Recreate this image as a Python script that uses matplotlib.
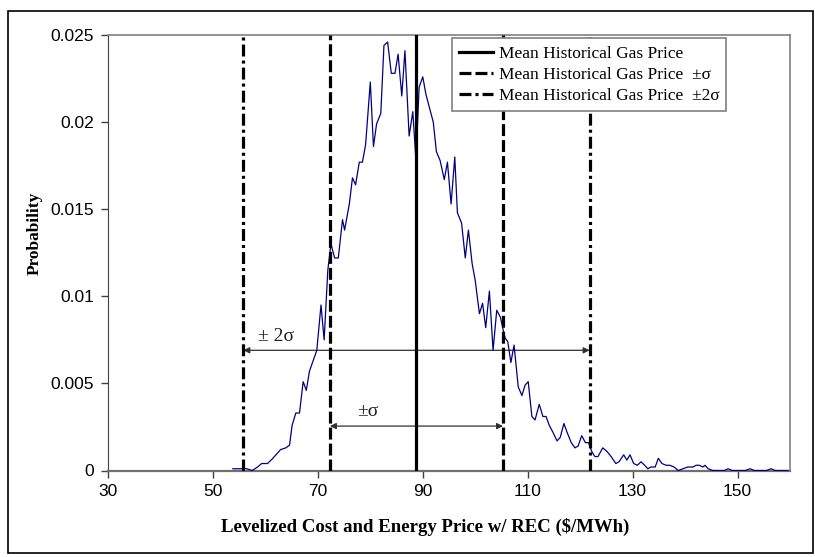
import matplotlib
matplotlib.use("Agg")
import matplotlib.pyplot as plt
from matplotlib.patches import Rectangle
from matplotlib.lines import Line2D

plt.rcParams.update({
    "font.family": "serif",
    "font.serif": ["Liberation Serif", "Times New Roman", "DejaVu Serif"],
    "lines.scale_dashes": False,
})

# distribution of levelized cost + energy price
price = [53.8, 55.3, 56.2, 57.5, 58.5, 59.3, 60.4, 61.3, 62.0, 62.9, 63.9, 64.6,
         65.1, 65.8, 66.5, 67.2, 67.8, 68.4, 69.1, 69.8, 70.6, 71.2, 71.9, 72.5,
         73.2, 73.9, 74.7, 75.1, 76.0, 76.6, 77.2, 77.9, 78.5, 79.1, 80.0, 80.6,
         81.2, 82.0, 82.6, 83.3, 84.0, 84.7, 85.3, 86.0, 86.6, 87.4, 88.1, 88.7,
         89.3, 90.0, 90.6, 91.3, 92.0, 92.6, 93.3, 94.1, 94.7, 95.4, 96.1, 96.6,
         97.4, 98.1, 98.7, 99.4, 100.0, 100.8, 101.4, 102.0, 102.7, 103.4, 104.1,
         104.8, 105.3, 105.7, 106.2, 106.8, 107.4, 108.2, 108.9, 109.5, 110.1,
         110.8, 111.4, 112.2, 112.9, 113.5, 114.1, 114.8, 115.6, 116.2, 116.9,
         117.5, 118.3, 119.0, 119.6, 120.3, 121.0, 121.6, 122.2, 122.8, 123.4,
         124.3, 125.1, 125.9, 126.8, 127.4, 128.3, 128.9, 129.5, 130.2, 130.9,
         131.6, 132.3, 132.9, 133.5, 134.3, 134.9, 135.6, 136.4, 137.1, 137.9,
         138.7, 139.6, 140.5, 141.5, 142.1, 142.7, 143.4, 143.8, 144.4, 145.3,
         146.5, 147.5, 148.2, 149.0, 151.5, 152.4, 153.2, 155.5, 156.4, 157.2,
         159.6]
prob = [0.0001, 0.0001, 0.00012, 0.0, 0.0002, 0.0004, 0.0004, 0.00066, 0.0009,
        0.0012, 0.0013, 0.00145, 0.0026, 0.0033, 0.0033, 0.0051, 0.0046, 0.0057,
        0.0063, 0.0069, 0.0095, 0.0075, 0.0115, 0.0130, 0.0122, 0.0122, 0.0144,
        0.0138, 0.0153, 0.0168, 0.0164, 0.0177, 0.0177, 0.0187, 0.0223, 0.0186,
        0.0199, 0.0205, 0.0244, 0.0246, 0.0228, 0.0228, 0.0239, 0.0215, 0.0241,
        0.0192, 0.0206, 0.0178, 0.0220, 0.0226, 0.0216, 0.0208, 0.0200, 0.0183,
        0.0178, 0.0167, 0.0177, 0.0153, 0.0180, 0.0148, 0.0142, 0.0122, 0.0138,
        0.0119, 0.0109, 0.0090, 0.0096, 0.0082, 0.0103, 0.0069, 0.0092, 0.0088,
        0.0081, 0.0076, 0.0074, 0.0062, 0.0072, 0.0048, 0.0043, 0.0049, 0.0051,
        0.0031, 0.0029, 0.0038, 0.0031, 0.0031, 0.0026, 0.0022, 0.0017, 0.0019,
        0.0027, 0.0022, 0.0016, 0.0013, 0.0014, 0.0020, 0.0016, 0.0016, 0.0011,
        0.0008, 0.0008, 0.0013, 0.0011, 0.0008, 0.0004, 0.0005, 0.0009, 0.0006,
        0.0009, 0.0004, 0.0003, 0.0005, 0.0003, 0.0001, 0.0002, 0.0002, 0.0007,
        0.0004, 0.0003, 0.0003, 0.0002, 0.0, 0.0001, 0.0002, 0.0002, 0.0003,
        0.0003, 0.0002, 0.0003, 0.0001, 0.0, 0.0, 0.0, 0.0001, 0.0, 0.0, 0.0001,
        0.0, 0.0, 0.0001, 0.0, 0.0]

mean_gas = 88.8
sigma = 16.5
arrow_y = [0.0069, 0.00255]   # heights of the +-2sigma and +-sigma spans

xticks = [30, 50, 70, 90, 110, 130, 150]
yticks = [0, 0.005, 0.01, 0.015, 0.02, 0.025]
yticklabels = ["0", "0.005", "0.01", "0.015", "0.02", "0.025"]

dash = (8.6, 2.9)
dashdot = (8.6, 2.9, 2.2, 2.9)

fig = plt.figure(figsize=(8.15, 5.57), dpi=100)
ax = fig.add_axes([108 / 815, 1 - 470.5 / 557, 682 / 815, 435.5 / 557])

ax.plot(price, prob, color="#000080", lw=0.9, zorder=3)

vkw = dict(color="black", lw=2.3, zorder=4)
ax.axvline(mean_gas, ls="-", **vkw)
for k in (-1, 1):
    ax.axvline(mean_gas + k * sigma, ls=(0, dash), **vkw)
    ax.axvline(mean_gas + 2 * k * sigma, ls=(0, dashdot), **vkw)

akw = dict(arrowstyle="<|-|>", color="#303030", lw=0.9, mutation_scale=9,
           shrinkA=0, shrinkB=0)
ax.annotate("", xy=(mean_gas - 2 * sigma, arrow_y[0]),
            xytext=(mean_gas + 2 * sigma, arrow_y[0]), arrowprops=akw, zorder=2)
ax.annotate("", xy=(mean_gas - sigma, arrow_y[1]),
            xytext=(mean_gas + sigma, arrow_y[1]), arrowprops=akw, zorder=2)
ax.text(62.0, 0.0077, "± 2σ", fontsize=14, ha="center", va="center", color="#202020")
ax.text(79.5, 0.0034, "±σ", fontsize=14, ha="center", va="center", color="#202020")

ax.set_xlim(30, 160)
ax.set_ylim(0, 0.025)
ax.set_xticks(xticks)
ax.set_yticks(yticks)
ax.set_yticklabels(yticklabels)
for lab in ax.get_xticklabels() + ax.get_yticklabels():
    lab.set_family("Liberation Sans")
    lab.set_fontsize(12.5)
ax.tick_params(direction="out", length=5, width=1, color="#404040", pad=5)

for side in ("top", "right"):
    ax.spines[side].set_color("#808080")
    ax.spines[side].set_linewidth(1.2)
ax.spines["left"].set_color("#404040")
ax.spines["bottom"].set_color("#707070")
ax.spines["bottom"].set_linewidth(1.6)

ax.set_xlabel("Levelized Cost and Energy Price w/ REC ($/MWh)", fontsize=13.5,
              fontweight="bold")
ax.set_ylabel("Probability", fontsize=12.5, fontweight="bold")
ax.xaxis.set_label_coords(0.465, -0.11)
ax.yaxis.set_label_coords(-0.096, 0.545)

handles = [
    Line2D([], [], color="black", lw=2.3, ls="-"),
    Line2D([], [], color="black", lw=2.3, ls=(0, dash)),
    Line2D([], [], color="black", lw=2.3, ls=(0, dashdot)),
]
labels = ["Mean Historical Gas Price",
          "Mean Historical Gas Price  ±σ",
          "Mean Historical Gas Price  ±2σ"]
leg = ax.legend(handles, labels, loc="upper left", bbox_to_anchor=(0.504, 0.992),
                fontsize=12.5, frameon=True, fancybox=False, framealpha=1,
                edgecolor="#808080", handlelength=2.0, handletextpad=0.3,
                labelspacing=0.3, borderpad=0.4, borderaxespad=0)
leg.get_frame().set_linewidth(1.2)
leg.set_zorder(5)

# border round the whole chart
fig.patches.append(Rectangle((8 / 815, 4 / 557), 805 / 815, 542 / 557,
                             transform=fig.transFigure, fill=False,
                             edgecolor="black", lw=1.2))

fig.savefig("out.png", dpi=100)
